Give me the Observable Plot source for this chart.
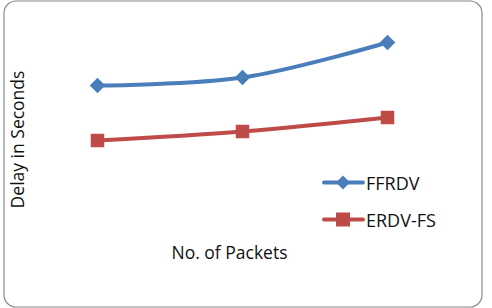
<!DOCTYPE html>
<html><head><meta charset="utf-8">
<script src="https://cdn.jsdelivr.net/npm/d3@7"></script>
<script src="https://cdn.jsdelivr.net/npm/@observablehq/plot@0.6"></script>
<style>
body{margin:0;background:#fff;font-family:"Open Sans",sans-serif;}
#wrap{position:relative;width:492px;height:308px;}
#legend{position:absolute;left:322px;top:164px;font-size:18px;color:#111;}
.item{display:flex;align-items:center;height:37px;}
.item span{margin-left:1px;}
</style></head><body>
<div id="wrap"><div id="chart"></div><div id="legend"></div></div>
<script>
const packets = [1, 2, 3];
const seriesNames = ["FFRDV", "ERDV-FS"];
const ffrdv = [7.4, 7.72, 9.12];
const erdvfs = [5.2, 5.56, 6.12];
const colors = ["#4A7EBB", "#BE4B48"];

const data = [
  ...packets.map((p, i) => ({p, v: ffrdv[i], s: seriesNames[0]})),
  ...packets.map((p, i) => ({p, v: erdvfs[i], s: seriesNames[1]}))
];

const mL = 97, mR = 105, mT = 20, mB = 38;
const chart = Plot.plot({
  width: 492, height: 308,
  marginLeft: mL, marginRight: mR, marginTop: mT, marginBottom: mB,
  x: {domain: [1, 3], axis: null},
  y: {domain: [0, 10], axis: null},
  color: {domain: seriesNames, range: colors},
  style: {fontFamily: "Open Sans, sans-serif", background: "white"},
  marks: [
    Plot.frame({rx: 12, stroke: "#8a8a8a", strokeWidth: 1.2,
      insetLeft: -(mL - 3.5), insetRight: -(mR - 10.5), insetTop: -(mT - 0.5), insetBottom: -(mB - 1.5)}),
    Plot.line(data, {x: "p", y: "v", z: "s", stroke: "s", strokeWidth: 4, curve: "catmull-rom"}),
    Plot.dot(data.filter(d => d.s === seriesNames[0]), {x: "p", y: "v", symbol: "diamond2", r: 7, fill: colors[0], stroke: "none"}),
    Plot.dot(data.filter(d => d.s === seriesNames[1]), {x: "p", y: "v", symbol: "square2", r: 8.6, fill: colors[1], stroke: "none"}),
    Plot.text(["No. of Packets"], {frameAnchor: "bottom", dx: -13, dy: -12, fontSize: 17.5, fill: "#111"}),
    Plot.text(["Delay in Seconds"], {frameAnchor: "left", textAnchor: "middle", rotate: -90, dx: -79, dy: -6, fontSize: 17.5, fill: "#111"})
  ]
});
document.getElementById("chart").appendChild(chart);

const leg = document.getElementById("legend");
seriesNames.forEach((name, i) => {
  const sym = i === 0
    ? `<path d="M21 1.5 L28 8.5 L21 15.5 L14 8.5 Z" fill="${colors[i]}"/>`
    : `<rect x="14" y="1.5" width="14" height="14" fill="${colors[i]}"/>`;
  leg.insertAdjacentHTML("beforeend",
    `<div class="item"><svg width="43" height="17"><line x1="2" y1="8.5" x2="41" y2="8.5" stroke="${colors[i]}" stroke-width="4" stroke-linecap="round"/>${sym}</svg><span>${name}</span></div>`);
});
</script>
</body></html>
